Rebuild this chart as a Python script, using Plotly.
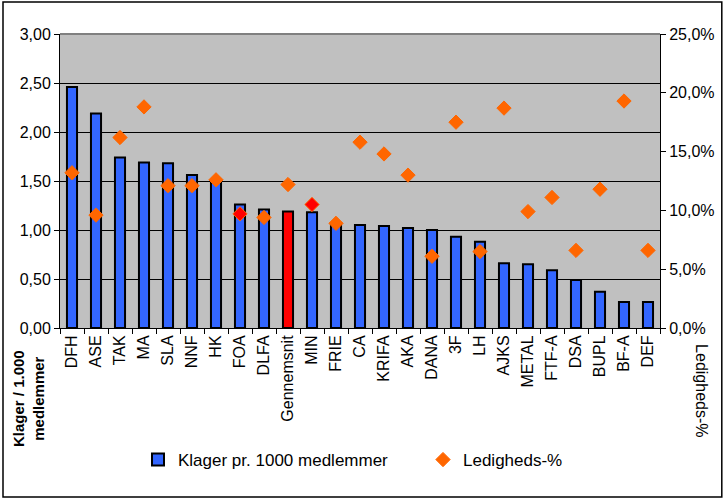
import plotly.graph_objects as go

categories = ["DFH", "ASE", "TAK", "MA", "SLA", "NNF", "HK", "FOA", "DLFA", "Gennemsnit",
              "MIN", "FRIE", "CA", "KRIFA", "AKA", "DANA", "3F", "LH", "AJKS", "METAL",
              "FTF-A", "DSA", "BUPL", "BF-A", "DEF"]
klager = [2.46, 2.19, 1.74, 1.69, 1.68, 1.56, 1.50, 1.26, 1.21, 1.19,
          1.18, 1.06, 1.05, 1.04, 1.02, 1.00, 0.93, 0.88, 0.66, 0.65,
          0.59, 0.49, 0.37, 0.265, 0.265]
ledighed = [0.132, 0.096, 0.162, 0.188, 0.121, 0.121, 0.126, 0.097, 0.094, 0.122,
            0.105, 0.089, 0.158, 0.148, 0.130, 0.061, 0.175, 0.065, 0.187, 0.099,
            0.111, 0.066, 0.118, 0.193, 0.066]
highlight_bar = "Gennemsnit"
red_markers = ["FOA", "MIN"]

bar_colors = ["#FF0000" if c == highlight_bar else "#3366FF" for c in categories]
mk_colors = ["#FF0000" if c in red_markers else "#FF6600" for c in categories]
mk_line = ["#FF6600" for c in categories]

font = "Liberation Sans, Arial, sans-serif"

fig = go.Figure()
fig.add_trace(go.Bar(
    x=categories, y=klager, name="Klager pr. 1000 medlemmer",
    marker=dict(color=bar_colors, line=dict(color="black", width=2)),
    yaxis="y", legend="legend",
))
fig.add_trace(go.Scatter(
    x=categories, y=ledighed, name="Ledigheds-%", mode="markers",
    marker=dict(symbol="diamond", size=11, color=mk_colors, line=dict(color=mk_line, width=1)),
    yaxis="y2", legend="legend2",
))

leg_common = dict(orientation="h", yanchor="middle", xanchor="left",
                  font=dict(size=17), bgcolor="rgba(0,0,0,0)")

fig.update_layout(
    width=725, height=500,
    margin=dict(l=60, r=65, t=34, b=172, autoexpand=False),
    paper_bgcolor="white", plot_bgcolor="#C0C0C0",
    separators=",.",
    font=dict(family=font, size=16, color="black"),
    bargap=0.58,
    showlegend=True,
    legend=dict(x=0.13, y=-0.449, **leg_common),
    legend2=dict(x=0.605, y=-0.449, **leg_common),
    xaxis=dict(range=[-0.5, len(categories) - 0.5], showline=True, linecolor="black",
               linewidth=1, ticks="outside", tickson="boundaries", ticklen=5,
               tickcolor="black", tickangle=-90, tickfont=dict(size=16), showgrid=False,
               mirror=False, automargin=False),
    yaxis=dict(range=[0, 3], dtick=0.5, tickformat=".2f", showline=True, linecolor="black",
               linewidth=1, ticks="outside", ticklen=5, tickcolor="black",
               showgrid=True, gridcolor="black", gridwidth=1, zeroline=False,
               tickfont=dict(size=16), automargin=False),
    yaxis2=dict(range=[0, 0.25], dtick=0.05, tickformat=".1%", overlaying="y", side="right",
                showline=True, linecolor="black", linewidth=1, ticks="outside", ticklen=5,
                tickcolor="black", showgrid=False, zeroline=False, tickfont=dict(size=16),
                automargin=False),
    shapes=[
        dict(type="line", xref="paper", yref="paper", x0=0, x1=1, y0=1, y1=1,
             line=dict(color="#808080", width=2)),
        dict(type="rect", xref="paper", yref="paper", x0=-0.095, x1=1.103, y0=-0.575, y1=1.109,
             line=dict(color="black", width=1.5), fillcolor="rgba(0,0,0,0)", layer="below"),
    ],
    annotations=[
        dict(text="<b>Klager / 1.000<br>medlemmer</b>", xref="paper", yref="paper",
             x=-0.0533, y=-0.2415, xanchor="center", yanchor="middle", textangle=-90,
             align="center", showarrow=False, font=dict(size=15)),
        dict(text="Ledigheds-%", xref="paper", yref="paper",
             x=1.068, y=-0.214, xanchor="center", yanchor="middle", textangle=90,
             showarrow=False, font=dict(size=16)),
    ],
)

fig.write_html("out.html", config={"displayModeBar": False},
               post_script="document.body.style.margin='0';")
